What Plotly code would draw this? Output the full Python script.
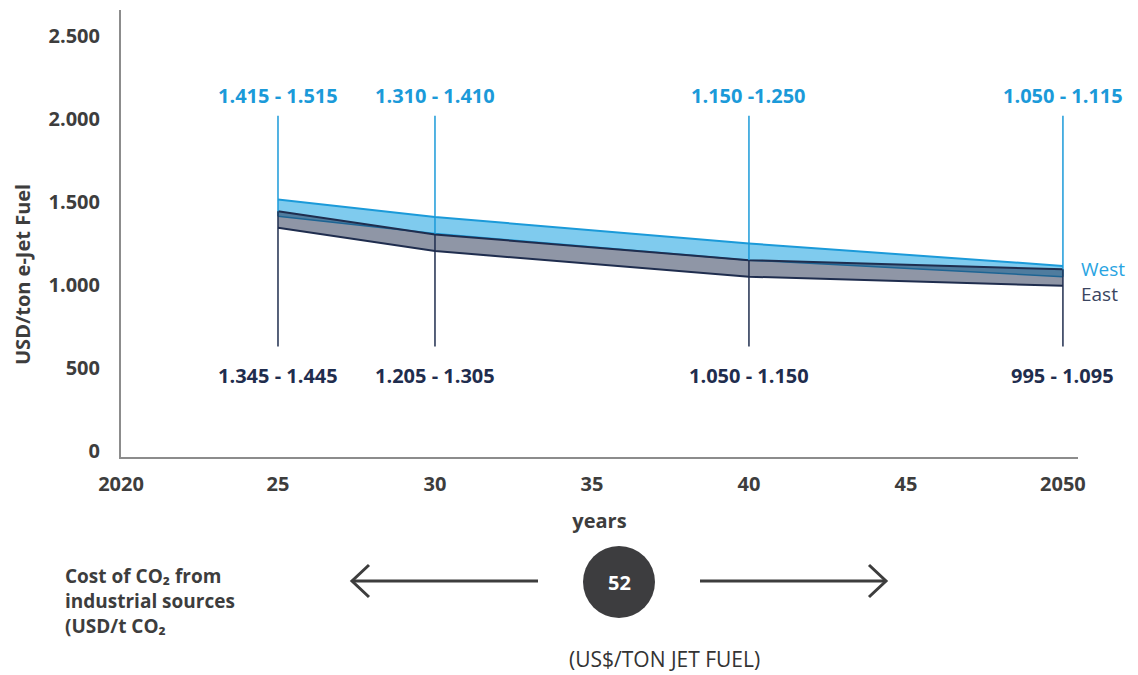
import plotly.graph_objects as go

# e-Jet fuel cost ranges (USD per ton) by region
years = [2025, 2030, 2040, 2050]
west_low = [1415, 1310, 1150, 1050]
west_high = [1515, 1410, 1250, 1115]
east_low = [1345, 1205, 1050, 995]
east_high = [1445, 1305, 1150, 1095]
west_sep = [" - ", " - ", " -", " - "]
east_sep = [" - ", " - ", " - ", " - "]

x_tick_vals = [2020, 2025, 2030, 2035, 2040, 2045, 2050]
x_tick_text = ["2020", "25", "30", "35", "40", "45", "2050"]
y_tick_vals = [0, 500, 1000, 1500, 2000, 2500]
y_tick_text = ["0", "500", "1.000", "1.500", "2.000", "2.500"]

co2_cost = 52
leader_top = 2020
leader_bottom = 630

BLUE = "#1b9ad9"
BLUE_FILL = "#7fcbee"
NAVY = "#1f2d4e"
EAST_FILL = "rgba(31,45,78,0.5)"
GREY_TXT = "#3d3d3d"
FONT = "Open Sans"

W, H = 1138, 675
L, R, T, B = 121, 60, 10, 218
PW, PH = W - L - R, H - T - B


def px(x):
    return (x - L) / PW


def py(y):
    return (H - B - y) / PH


def fmt(v):
    return f"{v:,}".replace(",", ".")


def bold(size, color=GREY_TXT):
    return dict(family=FONT, size=size, color=color, weight="bold")


fig = go.Figure()

# West band
fig.add_trace(go.Scatter(x=years, y=west_low, mode="lines",
                         line=dict(color=BLUE, width=1.5), hoverinfo="skip"))
fig.add_trace(go.Scatter(x=years, y=west_high, mode="lines", fill="tonexty",
                         fillcolor=BLUE_FILL, line=dict(color=BLUE, width=2),
                         hoverinfo="skip"))
# East band
fig.add_trace(go.Scatter(x=years, y=east_low, mode="lines",
                         line=dict(color=NAVY, width=2), hoverinfo="skip"))
fig.add_trace(go.Scatter(x=years, y=east_high, mode="lines", fill="tonexty",
                         fillcolor=EAST_FILL, line=dict(color=NAVY, width=2),
                         hoverinfo="skip"))

# leader lines for each labelled year
for i, yr in enumerate(years):
    fig.add_trace(go.Scatter(x=[yr, yr], y=[leader_top, west_low[i]], mode="lines",
                             line=dict(color=BLUE, width=1.5), hoverinfo="skip"))
    fig.add_trace(go.Scatter(x=[yr, yr], y=[east_high[i], leader_bottom], mode="lines",
                             line=dict(color=NAVY, width=1.5), hoverinfo="skip"))

annotations = []
for i, yr in enumerate(years):
    annotations.append(dict(
        x=yr, y=py(95), xref="x", yref="paper", showarrow=False,
        text=f"{fmt(west_low[i])}{west_sep[i]}{fmt(west_high[i])}",
        font=bold(20, BLUE), xanchor="center", yanchor="middle"))
    annotations.append(dict(
        x=yr, y=py(375), xref="x", yref="paper", showarrow=False,
        text=f"{fmt(east_low[i])}{east_sep[i]}{fmt(east_high[i])}",
        font=bold(20, NAVY), xanchor="center", yanchor="middle"))

# region labels
annotations.append(dict(
    x=px(1079), y=py(281), xref="paper", yref="paper", showarrow=False,
    text="<span style='color:#29a4e2'>West</span><br><span style='color:#3a4560'>East</span>",
    xanchor="left", yanchor="middle", align="left",
    font=dict(family=FONT, size=19, color="#3a4560")))

# y axis title
annotations.append(dict(x=px(22), y=py(275), xref="paper", yref="paper",
                        showarrow=False, text="USD/ton e-Jet Fuel", textangle=-90,
                        xanchor="center", yanchor="middle", font=bold(20)))

# CO2 cost note
for txt, yy in [("Cost of CO₂ from", 576), ("industrial sources", 601), ("(USD/t CO₂", 626)]:
    annotations.append(dict(x=px(63), y=py(yy), xref="paper", yref="paper",
                            showarrow=False, align="left", xanchor="left", yanchor="middle",
                            text=txt, font=bold(19)))
annotations.append(dict(x=px(619), y=py(582), xref="paper", yref="paper",
                        showarrow=False, text=str(co2_cost), xanchor="center", yanchor="middle",
                        font=bold(20, "white")))
annotations.append(dict(x=px(664), y=py(659), xref="paper", yref="paper",
                        showarrow=False, text="(US$/TON JET FUEL)", xanchor="center", yanchor="middle",
                        font=dict(family=FONT, size=21, color="#333333")))

shapes = [
    dict(type="circle", xref="paper", yref="paper",
         x0=px(583), x1=px(655), y0=py(618), y1=py(546),
         fillcolor="#3d3d3f", line=dict(width=0)),
    # left arrow
    dict(type="line", xref="paper", yref="paper", x0=px(352), x1=px(538), y0=py(581), y1=py(581),
         line=dict(color=GREY_TXT, width=3)),
    dict(type="path", xref="paper", yref="paper",
         path=f"M {px(369)} {py(565)} L {px(352)} {py(581)} L {px(369)} {py(597)}",
         line=dict(color=GREY_TXT, width=3)),
    # right arrow
    dict(type="line", xref="paper", yref="paper", x0=px(700), x1=px(886), y0=py(581), y1=py(581),
         line=dict(color=GREY_TXT, width=3)),
    dict(type="path", xref="paper", yref="paper",
         path=f"M {px(869)} {py(565)} L {px(886)} {py(581)} L {px(869)} {py(597)}",
         line=dict(color=GREY_TXT, width=3)),
]

fig.update_layout(
    width=W, height=H,
    margin=dict(l=L, r=R, t=T, b=B),
    paper_bgcolor="white", plot_bgcolor="white",
    showlegend=False,
    annotations=annotations,
    shapes=shapes,
    xaxis=dict(range=[2020, 2050.48], tickvals=x_tick_vals, ticktext=x_tick_text,
               showgrid=False, zeroline=False, showline=True, linecolor="#8c8c8c",
               linewidth=2, ticks="", ticklabelstandoff=8, tickfont=bold(20),
               title=dict(text="years", standoff=18, font=bold(20))),
    yaxis=dict(range=[-36, 2657], tickvals=y_tick_vals, ticktext=y_tick_text,
               showgrid=False, zeroline=False, showline=True, linecolor="#8c8c8c",
               linewidth=2, ticks="", ticklabelstandoff=15, tickfont=bold(20)),
)

fig.write_html("out.html")
